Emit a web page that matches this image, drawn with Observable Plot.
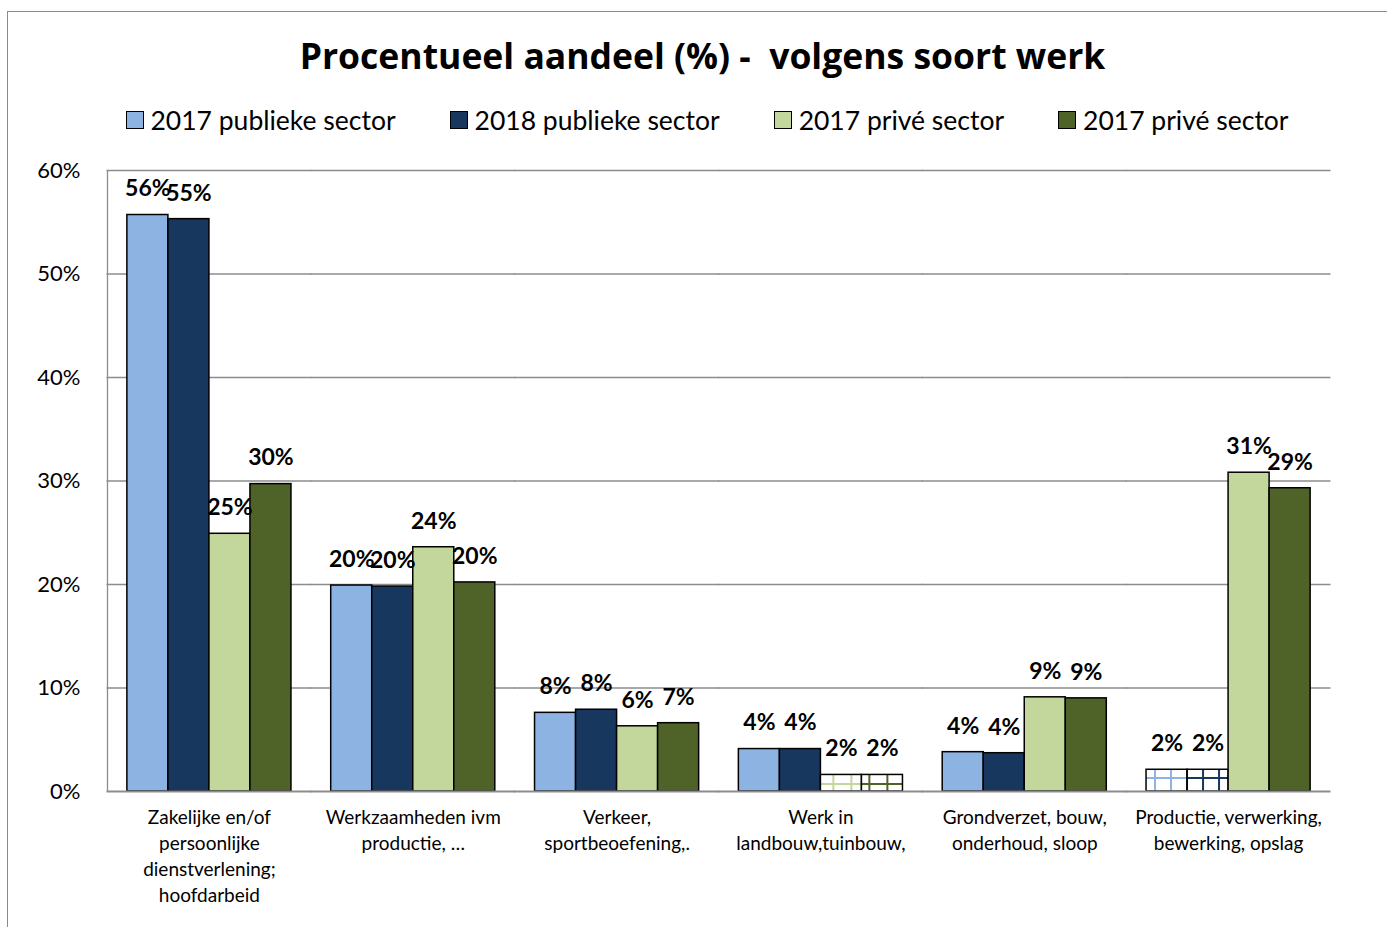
<!DOCTYPE html>
<html>
<head>
<meta charset="utf-8">
<script src="https://cdn.jsdelivr.net/npm/d3@7"></script>
<script src="https://cdn.jsdelivr.net/npm/@observablehq/plot@0.6"></script>
<style>
  html, body { margin: 0; padding: 0; background: #fff; }
  body { width: 1387px; height: 927px; overflow: hidden; position: relative; font-family: Lato, "Open Sans", sans-serif; }
  #frame { position: absolute; left: 7px; top: 11px; width: 1400px; height: 940px; border: 1.5px solid #8a8a8a; box-sizing: border-box; }
  #title { position: absolute; left: 0; top: 32px; width: 1405px; text-align: center; font-family: "Open Sans", sans-serif; font-size: 35.5px; font-weight: bold; color: #000; white-space: pre; line-height: 46px; }
  #legend { position: absolute; left: 0; top: 104px; width: 1414px; display: flex; justify-content: center; gap: 54px; font-size: 26.5px; color: #000; }
  #legend .item { display: flex; align-items: center; }
  #legend .sw { width: 16px; height: 16px; border: 1.5px solid #000; margin-right: 7px; }
  #chart { position: absolute; left: 0; top: 150px; }
</style>
</head>
<body>
<div id="frame"></div>
<div id="title">Procentueel aandeel (%) -  volgens soort werk</div>
<div id="legend"></div>
<div id="chart"></div>
<script>
// ---- data ----
const categories = [
  "Zakelijke en/of\npersoonlijke\ndienstverlening;\nhoofdarbeid",
  "Werkzaamheden ivm\nproductie, …",
  "Verkeer,\nsportbeoefening,.",
  "Werk in\nlandbouw,tuinbouw,",
  "Grondverzet, bouw,\nonderhoud, sloop",
  "Productie, verwerking,\nbewerking, opslag"
];
const seriesNames = ["2017 publieke sector", "2018 publieke sector", "2017 privé sector", "2017 privé sector"];
const seriesKeys = ["s1", "s2", "s3", "s4"];
const publiek2017 = [55.7, 19.9, 7.6, 4.1, 3.8, 2.1];
const publiek2018 = [55.3, 19.8, 7.9, 4.1, 3.7, 2.1];
const prive2017   = [24.9, 23.6, 6.3, 1.6, 9.1, 30.8];
const prive2018   = [29.7, 20.2, 6.6, 1.6, 9.0, 29.3];
const yTicks = [0, 10, 20, 30, 40, 50, 60];

// ---- style ----
const seriesColors = ["#8db3e2", "#17375e", "#c3d69b", "#4f6228"];
// bars drawn with a hatched grid fill instead of solid colour: [categoryIndex, seriesIndex]
const patternedBars = [[3, 2], [3, 3], [5, 0], [5, 1]];

const seriesValues = [publiek2017, publiek2018, prive2017, prive2018];
const rows = [];
categories.forEach((cat, ci) => {
  seriesKeys.forEach((key, si) => {
    const pat = patternedBars.some(([c, s]) => c === ci && s === si);
    rows.push({
      cat, key, value: seriesValues[si][ci],
      fill: pat ? `url(#pat-${key})` : seriesColors[si]
    });
  });
});

// legend
const legend = document.getElementById("legend");
seriesNames.forEach((name, i) => {
  const item = document.createElement("div");
  item.className = "item";
  const sw = document.createElement("div");
  sw.className = "sw";
  sw.style.background = seriesColors[i];
  const t = document.createElement("span");
  t.textContent = name;
  item.appendChild(sw); item.appendChild(t);
  legend.appendChild(item);
});

const fxPadInner = 0.195, fxPadOuter = 0.0975;
const chartWidth = 1340, mLeft = 107, mRight = 10;
// half of the gap between facet bands, so that grid rules run continuously across facets
const fxStep = (chartWidth - mLeft - mRight) / (categories.length - fxPadInner + 2 * fxPadOuter);
const halfGap = fxStep * fxPadInner / 2;
const barBand = fxStep * (1 - fxPadInner) / seriesKeys.length;

const chart = Plot.plot({
  width: chartWidth,
  height: 777,
  marginLeft: mLeft,
  marginRight: mRight,
  marginTop: 20,
  marginBottom: 136,
  style: { fontFamily: "Lato, 'Open Sans', sans-serif", color: "#000", background: "transparent" },
  fx: { domain: categories, paddingInner: fxPadInner, paddingOuter: fxPadOuter, round: false, label: null },
  x: { domain: seriesKeys, padding: 0, round: false, axis: null },
  y: { domain: [0, 60], label: null, axis: null },
  color: { type: "identity" },
  marks: [
    Plot.ruleY(yTicks.filter(d => d > 0), { stroke: "#8c8c8c", strokeWidth: 1.3, insetLeft: -halfGap - 0.5, insetRight: -halfGap - 0.5 }),
    // vertical axis line at the left edge of the plot area (first facet only)
    Plot.ruleX([{ cat: categories[0] }], { fx: "cat", x: () => seriesKeys[0], y1: 0, y2: 60, dx: -(barBand / 2 + halfGap), stroke: "#8c8c8c", strokeWidth: 1.3 }),
    Plot.barY(rows, { fx: "cat", x: "key", y: "value", fill: "fill", stroke: "#000", strokeWidth: 1.5 }),
    Plot.ruleY([0], { stroke: "#8c8c8c", strokeWidth: 2.2, insetLeft: -halfGap - 0.5, insetRight: -halfGap - 0.5 }),
    Plot.text(rows, { fx: "cat", x: "key", y: "value", text: d => Math.round(d.value) + "%", dy: -26, fontSize: 23, fontWeight: "bold", fill: "#000" }),
    Plot.axisY({ ticks: yTicks, tickFormat: d => d + "%", tickSize: 0, tickPadding: 27 + halfGap, fontSize: 22 }),
    Plot.axisFx({ anchor: "bottom", tickSize: 0, tickPadding: 14, fontSize: 19, lineHeight: 1.37, label: null })
  ]
});

const defs = d3.create("svg:defs");
const patSpecs = [
  { key: "s1", color: "#8db3e2", size: 16 },
  { key: "s2", color: "#17375e", size: 16 },
  { key: "s3", color: "#c3d69b", size: 18 },
  { key: "s4", color: "#4f6228", size: 18 }
];
patSpecs.forEach(p => {
  const pat = defs.append("pattern").attr("id", "pat-" + p.key)
    .attr("patternUnits", "userSpaceOnUse").attr("width", p.size).attr("height", p.size);
  pat.append("rect").attr("width", p.size).attr("height", p.size).attr("fill", "#fff");
  pat.append("line").attr("x1", 4).attr("x2", 4).attr("y1", 0).attr("y2", p.size).attr("stroke", p.color).attr("stroke-width", 2);
  pat.append("line").attr("x1", 0).attr("x2", p.size).attr("y1", 4).attr("y2", 4).attr("stroke", p.color).attr("stroke-width", 2);
});
chart.insertBefore(defs.node(), chart.firstChild);
document.getElementById("chart").appendChild(chart);
</script>
</body>
</html>
